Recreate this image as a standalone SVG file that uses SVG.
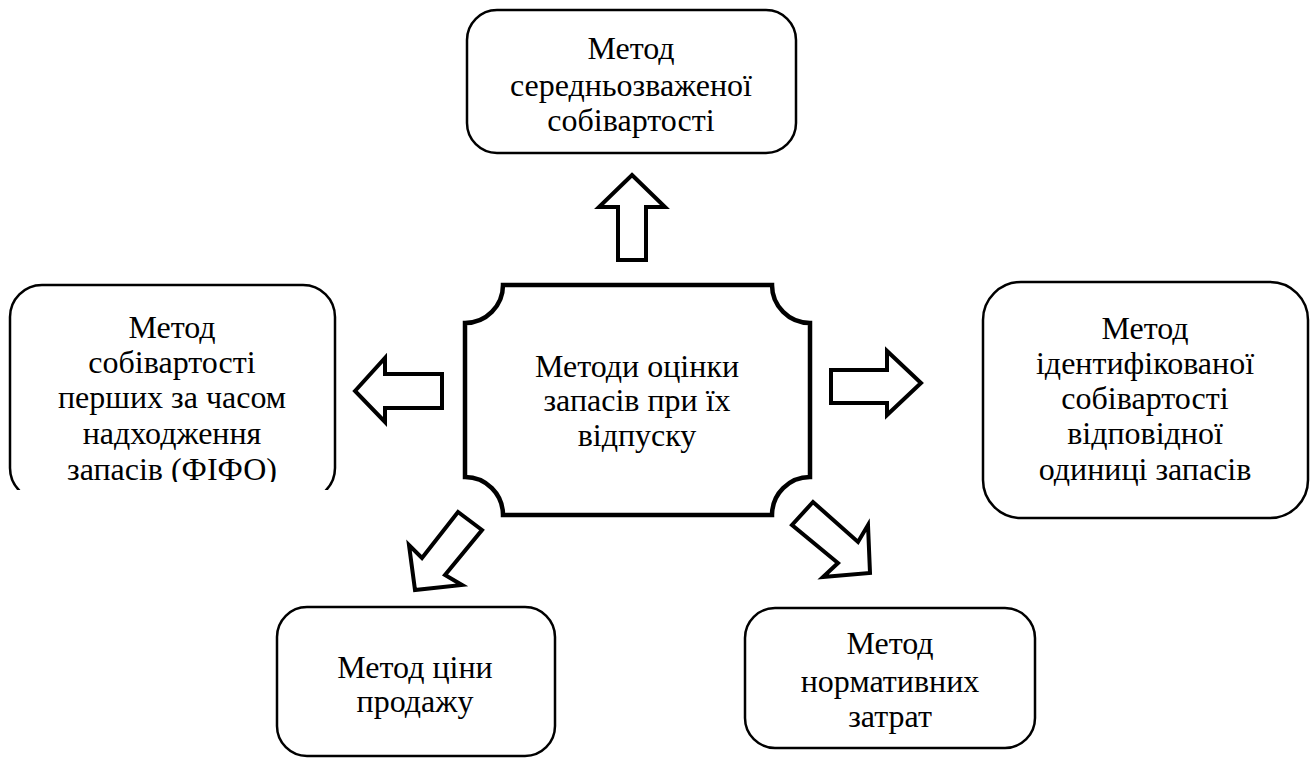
<svg xmlns="http://www.w3.org/2000/svg" width="1312" height="758" viewBox="0 0 1312 758">
<style>
.box{fill:#fff;stroke:#000;stroke-width:2.5}
.center{fill:#fff;stroke:#000;stroke-width:4.5;stroke-linejoin:miter}
.arr{fill:#fff;stroke:#000;stroke-width:4;stroke-linejoin:miter}
text{font-family:"Liberation Serif","Times New Roman",serif;font-size:32px;fill:#000;text-anchor:middle}
</style>
<defs>
<clipPath id="clipL"><rect x="0" y="270" width="345" height="220"/></clipPath>
<clipPath id="clipLT"><rect x="0" y="270" width="345" height="212"/></clipPath>
</defs>
<rect width="1312" height="758" fill="#fff"/>

<g id="connectors">
<polygon class="arr" points="632,175 665,207 646,207 646,260 618,260 618,207 599,207"/>
<polygon class="arr" points="355,391 385,358 385,374 442,374 442,408 385,408 385,422"/>
<polygon class="arr" points="921,383 887,351 887,370 831,370 831,403 887,403 887,415"/>
<polygon class="arr" points="415,590 409,545 422,558 458,512 482,530 445,575 462,585"/>
<polygon class="arr" points="870,573 868,525 858,542 813,502 792,525 838,563 823,577"/>
</g>

<g id="center">
<path class="center" d="M503,285 H772 A38,38 0 0 0 810,323 V477 A38,38 0 0 0 772,515 H503 A38,38 0 0 0 465,477 V323 A38,38 0 0 0 503,285 Z"/>
<text x="637" y="377">Методи оцінки</text>
<text x="637" y="411">запасів при їх</text>
<text x="637" y="446">відпуску</text>
</g>

<g id="top">
<rect class="box" x="467" y="10" width="329" height="143" rx="30" ry="30"/>
<text x="631" y="59">Метод</text>
<text x="631" y="96">середньозваженої</text>
<text x="631" y="131">собівартості</text>
</g>

<g id="left">
<rect class="box" x="10" y="285" width="325" height="215" rx="32" ry="32" clip-path="url(#clipL)"/>
<g clip-path="url(#clipLT)">
<text x="172" y="338">Метод</text>
<text x="172" y="373">собівартості</text>
<text x="172" y="408">перших за часом</text>
<text x="172" y="444">надходження</text>
<text x="172" y="480">запасів (ФІФО)</text>
</g>
</g>

<g id="right">
<rect class="box" x="983" y="282" width="325" height="236" rx="38" ry="38"/>
<text x="1145" y="339">Метод</text>
<text x="1145" y="374">ідентифікованої</text>
<text x="1145" y="409">собівартості</text>
<text x="1145" y="444">відповідної</text>
<text x="1145" y="480">одиниці запасів</text>
</g>

<g id="bottomleft">
<rect class="box" x="277" y="607" width="278" height="149" rx="30" ry="30"/>
<text x="415" y="678">Метод ціни</text>
<text x="415" y="712">продажу</text>
</g>

<g id="bottomright">
<rect class="box" x="745" y="608" width="290" height="140" rx="30" ry="30"/>
<text x="890" y="654">Метод</text>
<text x="890" y="692">нормативних</text>
<text x="890" y="727">затрат</text>
</g>
</svg>
